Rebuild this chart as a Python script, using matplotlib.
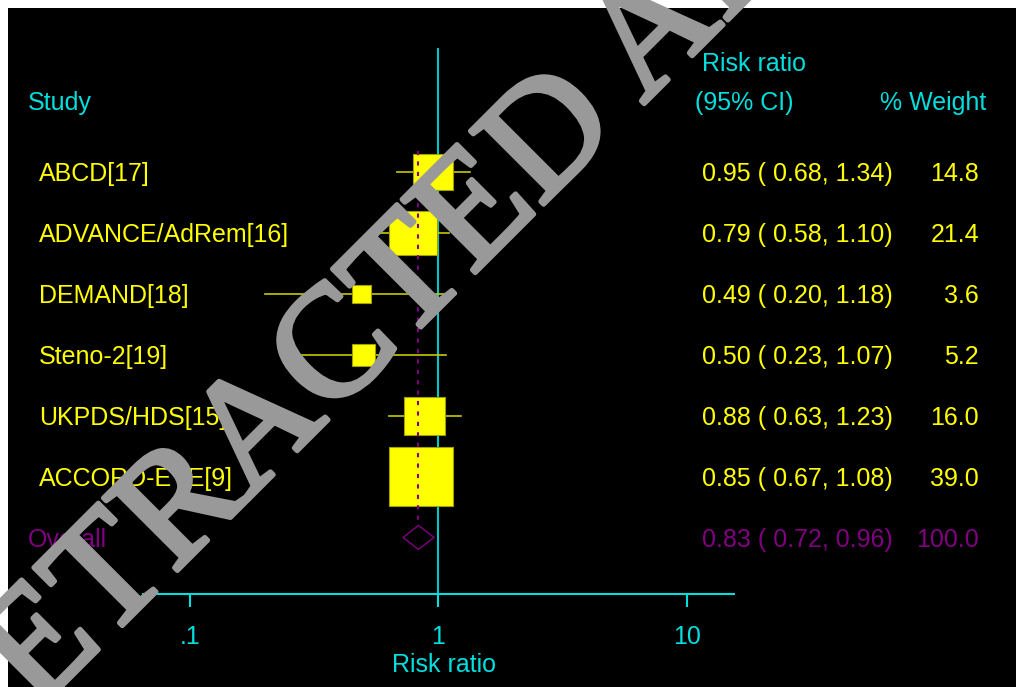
import matplotlib.pyplot as plt
import matplotlib.transforms as mtransforms
import matplotlib.patheffects as pe
from matplotlib.patches import Rectangle, Polygon
import numpy as np

plt.rcParams['font.family'] = ['Liberation Sans', 'DejaVu Sans']

# study rows
studies = ['ABCD[17]', 'ADVANCE/AdRem[16]', 'DEMAND[18]', 'Steno-2[19]',
           'UKPDS/HDS[15]', 'ACCORD-EYE[9]']
rr = [0.95, 0.79, 0.49, 0.50, 0.88, 0.85]
lo = [0.68, 0.58, 0.20, 0.23, 0.63, 0.67]
hi = [1.34, 1.10, 1.18, 1.07, 1.23, 1.08]
weight = [14.8, 21.4, 3.6, 5.2, 16.0, 39.0]

# pooled estimate
overall_rr, overall_lo, overall_hi, overall_w = 0.83, 0.72, 0.96, 100.0

xticks = [0.1, 1, 10]
xticklabels = ['.1', '1', '10']

yellow = '#ffff00'
olive = '#c8c800'
cyan = '#00dede'
purple = '#800080'

fig = plt.figure(figsize=(10.16, 6.87), dpi=100)
fig.patch.set_facecolor('white')
fig.patches.append(Rectangle((8 / 1016, 0), 1, 1 - 8 / 687, transform=fig.transFigure,
                             facecolor='black', edgecolor='none', zorder=-10))

ax = fig.add_axes([143 / 1016, 93 / 687, 591 / 1016, 546 / 687])
ax.set_facecolor('none')
ax.set_xscale('log')
ax.set_xlim(10 ** -1.19, 10 ** 1.19)
ax.set_ylim(6.929, -2.036)
for s in ['top', 'left', 'right']:
    ax.spines[s].set_visible(False)
ax.spines['bottom'].set_color(cyan)
ax.spines['bottom'].set_linewidth(1.5)
ax.set_yticks([])
ax.set_xticks(xticks)
ax.set_xticklabels(xticklabels)
ax.xaxis.set_minor_locator(plt.NullLocator())
ax.tick_params(axis='x', colors=cyan, length=9, width=1.5, pad=13, labelsize=18)
ax.set_xlabel('Risk ratio', color=cyan, fontsize=18, labelpad=3, x=0.509)

# null line and pooled-estimate line
ax.axvline(1, color='#00c8c8', lw=1.5, zorder=1)
ax.plot([overall_rr, overall_rr], [0 - 0.35, 6 - 0.2], color=purple, lw=1.5,
        linestyle=(0, (2, 3)), zorder=4)

dec_px = 591 / np.log10(10 ** 2.38)  # pixels per decade
row_px = 60.9
for i in range(len(studies)):
    ax.plot([lo[i], hi[i]], [i, i], color=olive, lw=1.2, zorder=2)
    side = 64 * np.sqrt(weight[i] / 39.0)
    half_dec = side / 2 / dec_px
    half_row = 0.93 * side / 2 / row_px
    x0 = rr[i] * 10 ** (-half_dec)
    x1 = rr[i] * 10 ** half_dec
    ax.add_patch(Rectangle((x0, i - half_row), x1 - x0, 2 * half_row,
                           facecolor=yellow, edgecolor='#a0a000', lw=0.8, zorder=3))

k = len(studies)
dh = 12 / row_px
ax.add_patch(Polygon([(overall_lo, k), (overall_rr, k - dh), (overall_hi, k), (overall_rr, k + dh)],
                     closed=True, facecolor='none', edgecolor=purple, lw=1.0, zorder=5))

# text columns: x in figure pixels, y in rows
trans = mtransforms.blended_transform_factory(fig.transFigure, ax.transData)
trans = mtransforms.offset_copy(trans, fig=fig, x=0, y=-2.5, units='dots')
fs = 18


def col(px):
    return px / 1016


ax.text(col(28), -1.18, 'Study', color=cyan, fontsize=fs, va='center', transform=trans)
ax.text(col(702), -1.82, 'Risk ratio', color=cyan, fontsize=fs, va='center', transform=trans)
ax.text(col(695), -1.18, '(95% CI)', color=cyan, fontsize=fs, va='center', transform=trans)
ax.text(col(986), -1.18, '% Weight', color=cyan, fontsize=fs, va='center', ha='right',
        transform=trans)

for i in range(len(studies)):
    ax.text(col(39), i, studies[i], color=yellow, fontsize=fs, va='center', transform=trans)
    ax.text(col(702), i, '%.2f ( %.2f, %.2f)' % (rr[i], lo[i], hi[i]), color=yellow,
            fontsize=fs, va='center', transform=trans)
    ax.text(col(979), i, '%.1f' % weight[i], color=yellow, fontsize=fs, va='center',
            ha='right', transform=trans)

ax.text(col(28), k, 'Overall', color=purple, fontsize=fs, va='center', transform=trans)
ax.text(col(702), k, '%.2f ( %.2f, %.2f)' % (overall_rr, overall_lo, overall_hi),
        color=purple, fontsize=fs, va='center', transform=trans)
ax.text(col(979), k, '%.1f' % overall_w, color=purple, fontsize=fs, va='center',
        ha='right', transform=trans)

# watermark
fig.text(-38 / 1016, 1 - 786 / 687, 'RETRACTED ARTICLE', family='Liberation Serif',
         fontsize=114, color='#999999', rotation=45, rotation_mode='anchor',
         ha='left', va='baseline', zorder=20,
         path_effects=[pe.withStroke(linewidth=3.5, foreground='#999999')])

fig.savefig('out.png', dpi=100, facecolor=fig.get_facecolor())
